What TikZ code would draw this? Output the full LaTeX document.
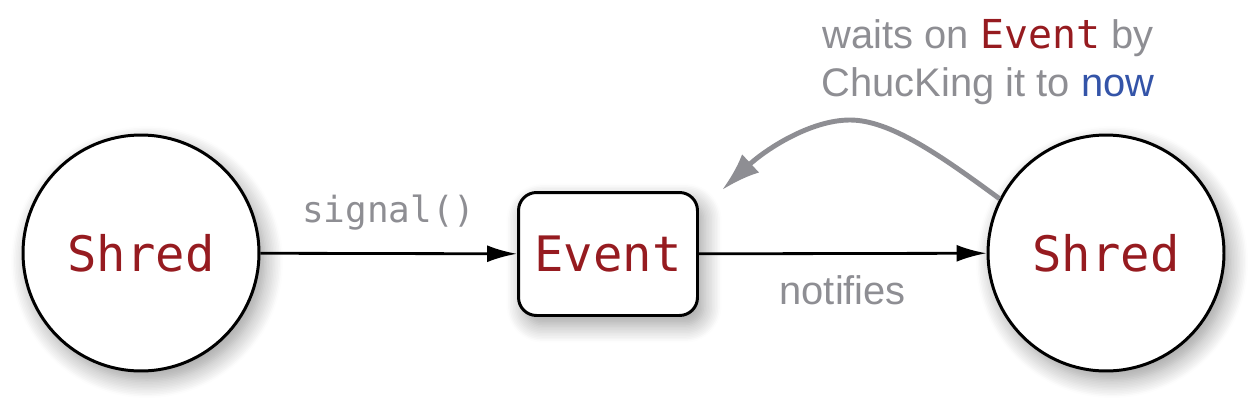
\documentclass[tikz,border=0pt]{standalone}
\usepackage{fontspec}
\setmainfont{Liberation Sans}
\setmonofont{DejaVu Sans Mono}
\usetikzlibrary{arrows.meta,shadows.blur}

\definecolor{shredred}{RGB}{150,27,32}
\definecolor{nowblue}{RGB}{52,84,168}
\definecolor{notegray}{RGB}{142,142,147}

\begin{document}
\begin{tikzpicture}[x=0.02cm, y=-0.02cm,
    soft/.style={blur shadow={shadow xshift=0.12cm, shadow yshift=-0.18cm,
        shadow blur radius=0.36cm, shadow blur steps=12, shadow opacity=40}},
    shred/.style={circle, draw, line width=1.7pt, fill=white, soft,
        minimum size=4.72cm, inner sep=0pt, text=shredred,
        font=\ttfamily\fontsize{27.8}{32}\selectfont},
    eventbox/.style={rectangle, rounded corners=0.36cm, draw, line width=1.7pt,
        fill=white, soft, minimum width=3.58cm, minimum height=2.46cm,
        inner sep=0pt, text=shredred, font=\ttfamily\fontsize{27.8}{32}\selectfont},
    note/.style={text=notegray, font=\fontsize{22.7}{27.3}\selectfont},
    link/.style={line width=1.6pt, -{Latex[length=0.6cm, width=0.34cm]}}]

    \useasboundingbox (0,0) rectangle (1256,406);

    % Shreds and the event
    \node[shred] (shredA) at (141,253) {Shred};
    \node[eventbox] (event) at (608,254) {Event};
    \node[shred] (shredB) at (1106,253) {Shred};

    % Signal and notify
    \draw[link] (shredA) -- (event)
        node[midway, above=0.32cm, text=notegray,
             font=\ttfamily\fontsize{20.5}{24}\selectfont] (signal) {signal()};
    \draw[link] (event) -- (shredB)
        node[midway, below=0.3cm, note] (notifies) {notifies};

    % Waiting on the event
    \coordinate (waitend) at (722,190);
    \draw[notegray, line width=2.8pt, -{Latex[length=0.78cm, width=0.5cm]}]
        (shredB.153) .. controls (940,155) and (890,120) .. (850,120)
        .. controls (810,120) and (765,150) .. (waitend);
    \node[note, align=center] (waits) at (988,62)
        {waits on {\ttfamily\color{shredred}Event} by\\ChucKing it to {\color{nowblue}now}};
\end{tikzpicture}
\end{document}
